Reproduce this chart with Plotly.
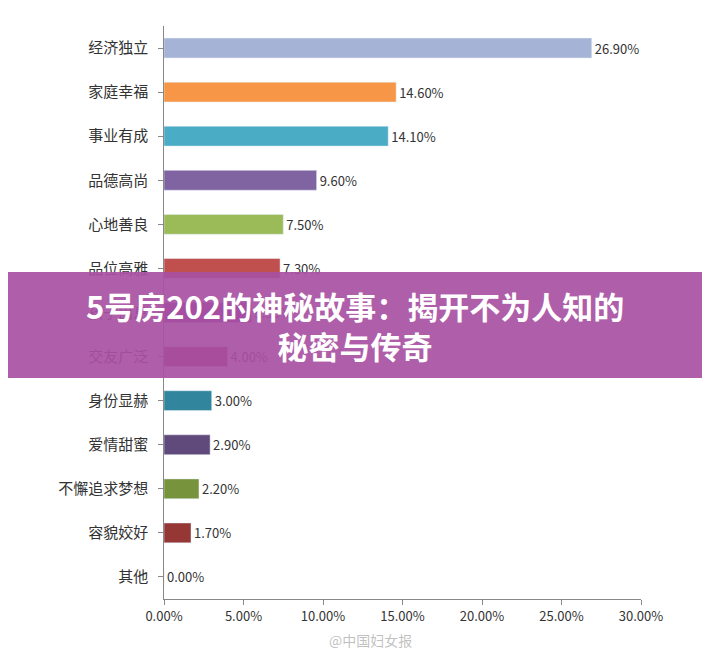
import plotly.graph_objects as go

categories = ["经济独立","家庭幸福","事业有成","品德高尚","心地善良","品位高雅","孩子出息",
              "交友广泛","身份显赫","爱情甜蜜","不懈追求梦想","容貌姣好","其他"]
values = [26.9,14.6,14.1,9.6,7.5,7.3,5.5,4.0,3.0,2.9,2.2,1.7,0.0]
colors = ["#a5b3d6","#f79646","#4bacc6","#8064a2","#9bbb59","#c0504d","#7a3aa6",
          "#a3305f","#31859c","#604a7b","#77933c","#953735","#4f81bd"]
ticks = [0,5,10,15,20,25,30]

W, H = 710, 655
L, R, T, B = 156, 77, 18, 64
pw, ph = W - L - R, H - T - B

fig = go.Figure(go.Bar(
    y=categories, x=values, orientation="h", marker_color=colors, width=0.45,
    text=[f"{v:.2f}%" for v in values], textposition="outside",
    textfont=dict(size=13, color="#333"), cliponaxis=False))
fig.update_layout(
    width=W, height=H, margin=dict(l=L, r=R, t=T, b=B),
    plot_bgcolor="white", paper_bgcolor="white", showlegend=False,
    font=dict(family="Noto Sans CJK SC", size=14, color="#333"),
    yaxis=dict(autorange="reversed", showline=True, linecolor="#888", ticks="outside",
               ticklen=5, tickcolor="#888", ticksuffix="  ", tickfont=dict(size=15),
               automargin=False),
    xaxis=dict(range=[0,30], tickvals=ticks, ticktext=[f"{t:.2f}%" for t in ticks],
               showline=True, linecolor="#888", ticks="outside", tickcolor="#888",
               showgrid=False, tickfont=dict(size=13), automargin=False),
)
# pixel positions below are in reference-image coordinates (page offset 8px)
def px(x): return (x - 8 - L) / pw
def py(y): return (H - (y - 8) - B) / ph
fig.add_shape(type="rect", xref="paper", yref="paper", x0=-0.5, x1=1.3,
              y0=py(378), y1=py(272),
              fillcolor="rgba(168,80,162,0.92)", line_width=0, layer="above")
fig.add_annotation(xref="paper", yref="paper", x=px(355), y=py(325),
                   text="<b>5号房202的神秘故事：揭开不为人知的<br>秘密与传奇</b>",
                   showarrow=False, font=dict(size=31, color="white"), align="center")
fig.add_annotation(xref="paper", yref="paper", x=px(370), y=py(640), yanchor="middle",
                   text="@中国妇女报", showarrow=False, font=dict(size=14, color="rgba(150,150,150,0.6)"))
fig.write_html("out.html")
